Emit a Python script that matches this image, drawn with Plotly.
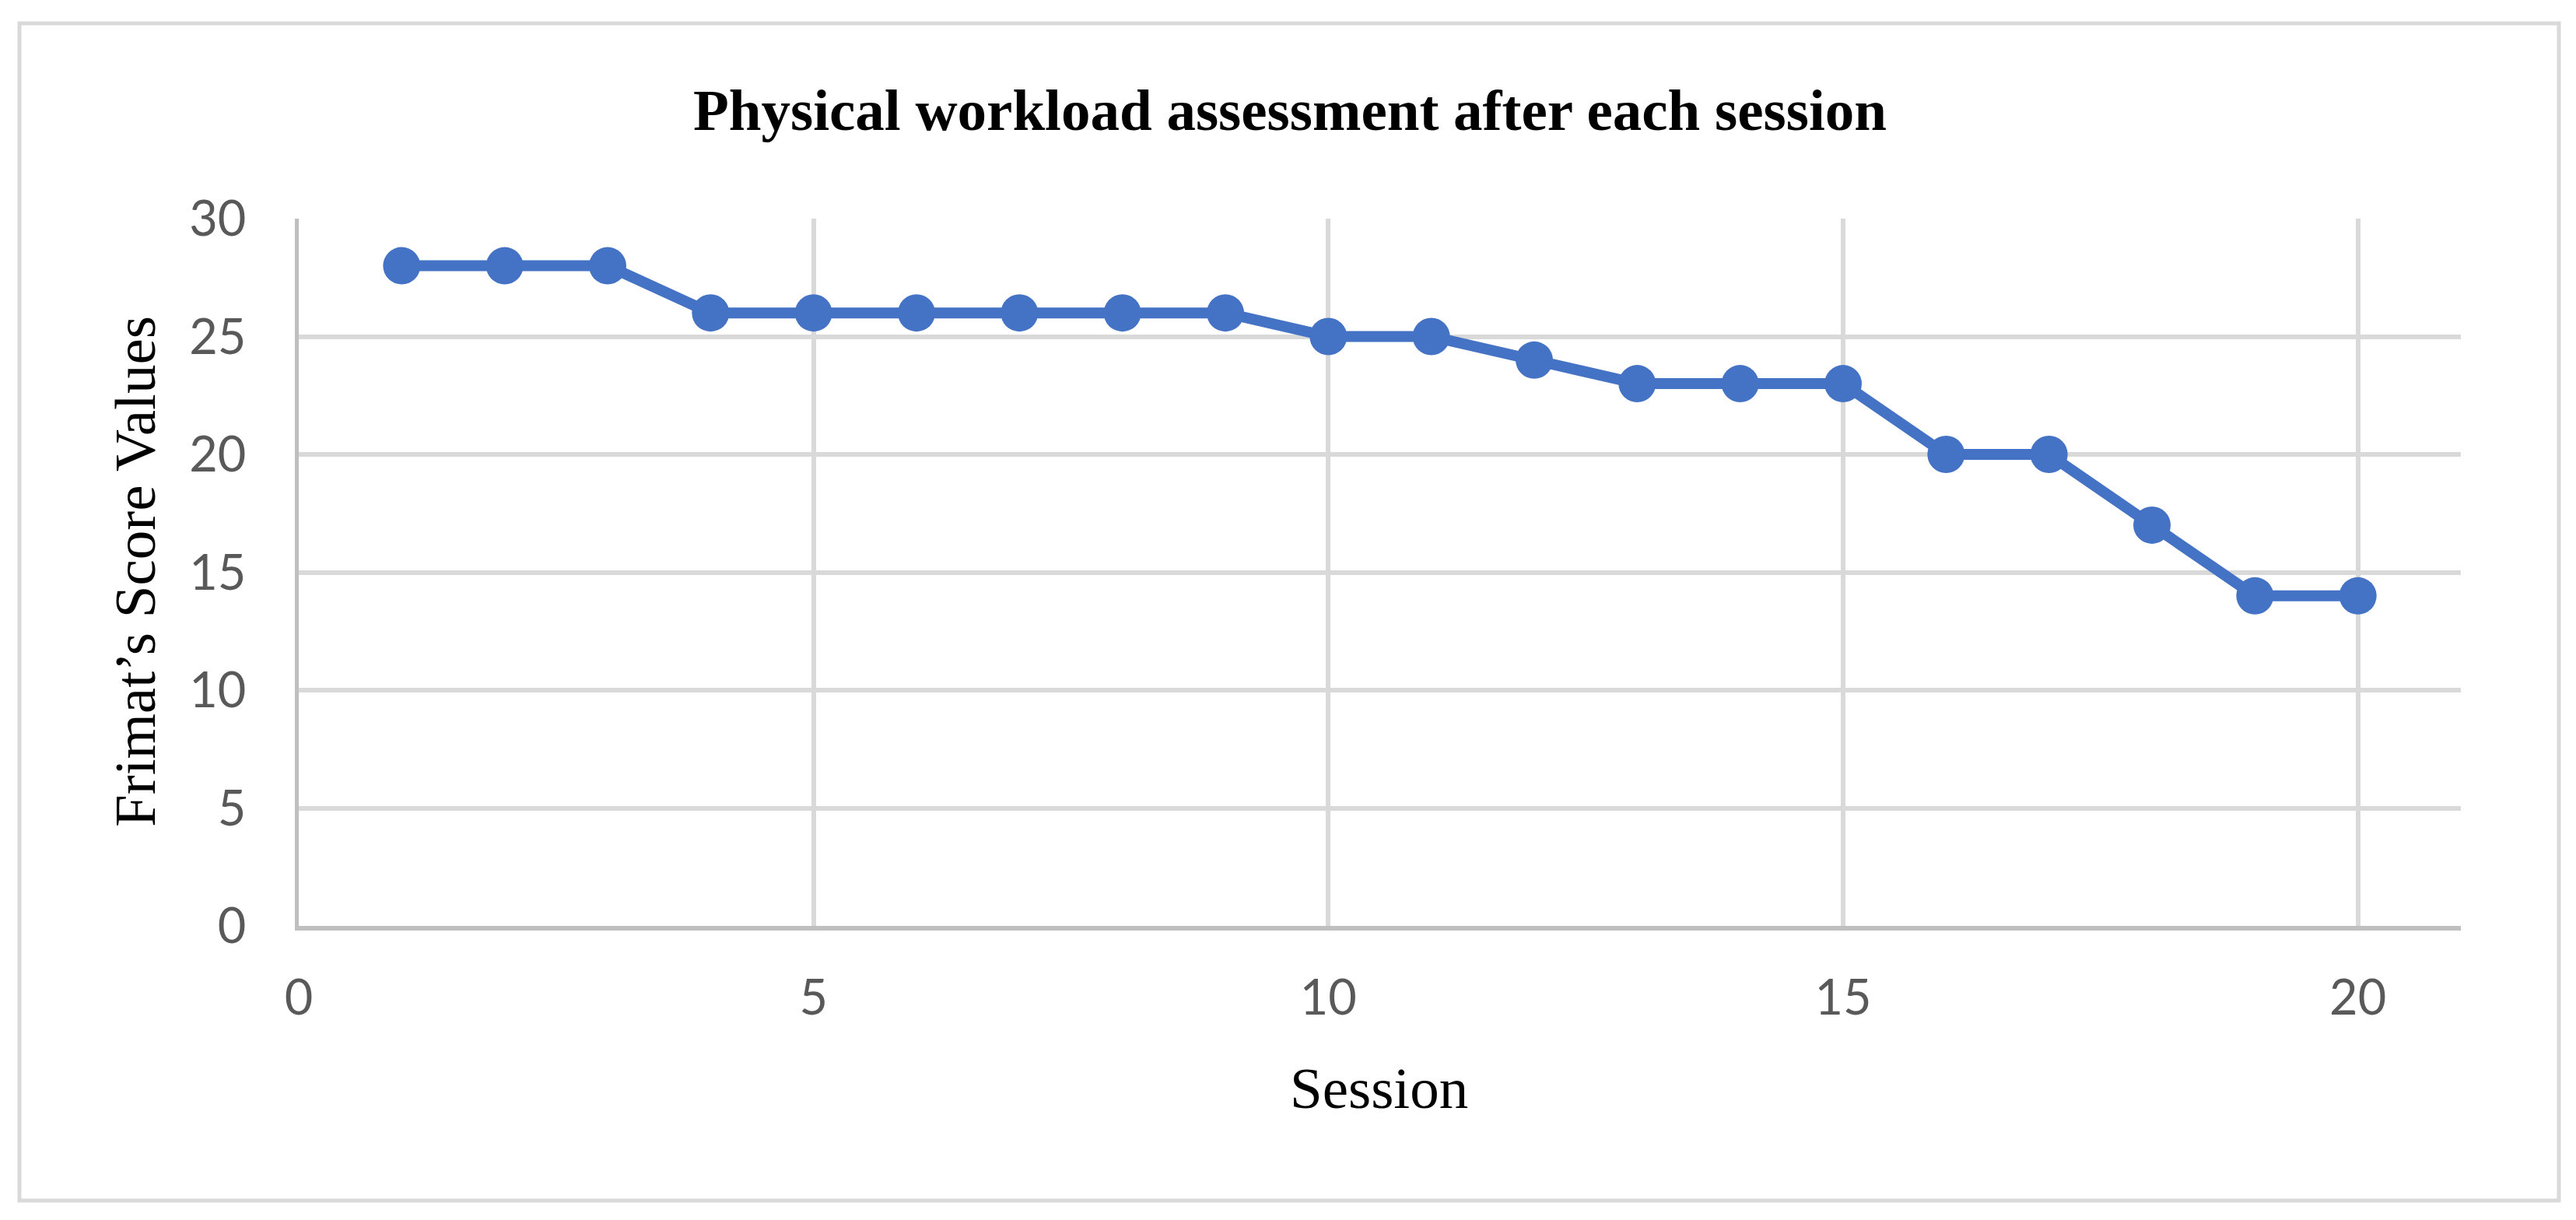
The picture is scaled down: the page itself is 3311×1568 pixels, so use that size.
import plotly.graph_objects as go

sessions = list(range(1, 21))
frimat_scores = [28, 28, 28, 26, 26, 26, 26, 26, 26, 25, 25, 24, 23, 23, 23, 20, 20, 17, 14, 14]
x_ticks = [0, 5, 10, 15, 20]
y_ticks = [0, 5, 10, 15, 20, 25, 30]

title_text = "Physical workload assessment after each session"
x_title = "Session"
y_title = "Frimat\u2019s Score Values"

# page has an 8px body margin; compensate so the plot lands where the reference has it
OFF = 8
SW, SH = 3311, 1568
PL, PR, PT, PB = 384, 3163, 281, 1190  # plot area in screen px

W, H = SW - OFF, SH - OFF
L, T = PL - OFF, PT - OFF
R, B = SW - PR, SH - PB

fig = go.Figure()
fig.add_trace(go.Scatter(
    x=sessions, y=frimat_scores, mode="lines+markers",
    line=dict(color="#4472C4", width=14),
    marker=dict(color="#4472C4", size=48, line=dict(width=0)),
    showlegend=False, hoverinfo="skip",
))

tickfont = dict(family="Lato, Carlito, Calibri, sans-serif", size=63, color="#595959")

fig.update_layout(
    width=W, height=H, autosize=False,
    margin=dict(l=L, r=R, t=T, b=B, pad=0),
    paper_bgcolor="white", plot_bgcolor="white",
    xaxis=dict(range=[0, 21], tickvals=x_ticks, showgrid=True, gridcolor="#d9d9d9", gridwidth=6,
               zeroline=False, showline=True, linecolor="#bfbfbf", linewidth=6,
               ticks="", tickfont=tickfont, ticklabelstandoff=32),
    yaxis=dict(range=[0, 30], tickvals=y_ticks, showgrid=True, gridcolor="#d9d9d9", gridwidth=6,
               zeroline=False, showline=True, linecolor="#bfbfbf", linewidth=5,
               ticks="", tickfont=tickfont, ticklabelstandoff=50),
)

pw = PR - PL
ph = PB - PT

def px(xs):
    return (xs - PL) / pw

def py(ys):
    return (PB - ys) / ph

serif = "Liberation Serif, Times New Roman, serif"
fig.add_annotation(text="<b>" + title_text + "</b>", xref="paper", yref="paper",
                   x=px(1658), y=py(141), showarrow=False, xanchor="center", yanchor="middle",
                   font=dict(family=serif, size=75, color="black"))
fig.add_annotation(text=x_title, xref="paper", yref="paper",
                   x=px(1772), y=py(1398), showarrow=False, xanchor="center", yanchor="middle",
                   font=dict(family=serif, size=75, color="black"))
fig.add_annotation(text=y_title, xref="paper", yref="paper", textangle=-90,
                   x=px(173), y=py(735), showarrow=False, xanchor="center", yanchor="middle",
                   font=dict(family=serif, size=75, color="black"))

fig.add_shape(type="rect", xref="paper", yref="paper",
              x0=px(25), x1=px(3289), y0=py(1543), y1=py(30),
              line=dict(color="#d9d9d9", width=5), fillcolor="rgba(0,0,0,0)", layer="below")

fig.write_html("out.html")
